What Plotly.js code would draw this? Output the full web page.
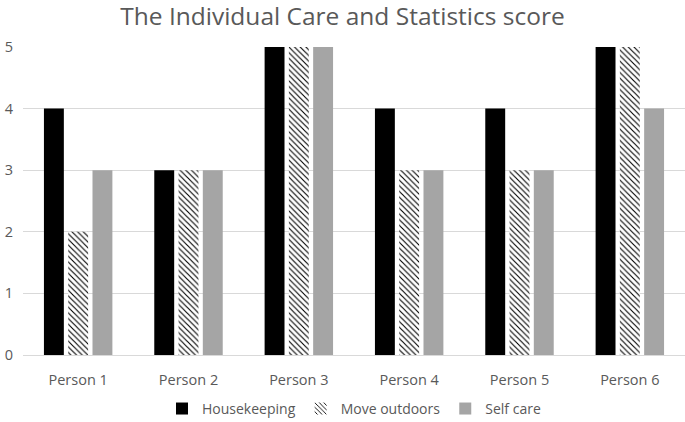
<!DOCTYPE html>
<html>
<head>
<meta charset="utf-8">
<script src="https://cdn.plot.ly/plotly-3.0.1.min.js"></script>
<style>html,body{margin:0;padding:0;background:#fff;}#chart{width:685px;height:422px;}</style>
</head>
<body>
<div id="chart"></div>
<script>
const categories = ["Person 1", "Person 2", "Person 3", "Person 4", "Person 5", "Person 6"];
const housekeeping = [4, 3, 5, 4, 4, 5];
const moveOutdoors = [2, 3, 5, 3, 3, 5];
const selfCare = [3, 3, 5, 3, 3, 4];
const yTicks = [0, 1, 2, 3, 4, 5];

const font = "Open Sans, Liberation Sans, sans-serif";
const traces = [
  {type: "bar", name: "Housekeeping", x: categories, y: housekeeping,
   marker: {color: "#000000"}},
  {type: "bar", name: "Move outdoors", x: categories, y: moveOutdoors,
   marker: {color: "#ffffff", pattern: {shape: "\\", fgcolor: "#000000", bgcolor: "#ffffff", size: 4, solidity: 0.28}}},
  {type: "bar", name: "Self care", x: categories, y: selfCare,
   marker: {color: "#a5a5a5"}}
];
const layout = {
  width: 685, height: 422,
  margin: {l: 23, r: 0, t: 47, b: 67},
  paper_bgcolor: "#ffffff", plot_bgcolor: "#ffffff",
  title: {text: "The Individual Care and Statistics score", x: 0.5, xanchor: "center", y: 0.96, yanchor: "middle",
          font: {family: font, size: 24.5, color: "#595959"}},
  barmode: "group", bargap: 0.34, bargroupgap: 0.18,
  showlegend: true,
  legend: {orientation: "h", x: 0.5, xanchor: "center", yref: "container", y: 0.031, yanchor: "middle",
           font: {family: font, size: 14, color: "#595959"}, traceorder: "normal"},
  xaxis: {type: "category", automargin: false, showgrid: false, showline: true, linecolor: "#d9d9d9", linewidth: 1,
          ticks: "", tickfont: {family: font, size: 14.5, color: "#595959"}, ticklabelstandoff: 12},
  yaxis: {range: [0, 5], automargin: false, tickvals: yTicks, showgrid: true, gridcolor: "#d9d9d9", gridwidth: 1,
          zeroline: true, zerolinecolor: "#d9d9d9", showline: false, ticks: "",
          tickfont: {family: font, size: 14.5, color: "#595959"}, ticklabelstandoff: 9}
};
Plotly.newPlot("chart", traces, layout, {displayModeBar: false, staticPlot: true});
</script>
</body>
</html>
